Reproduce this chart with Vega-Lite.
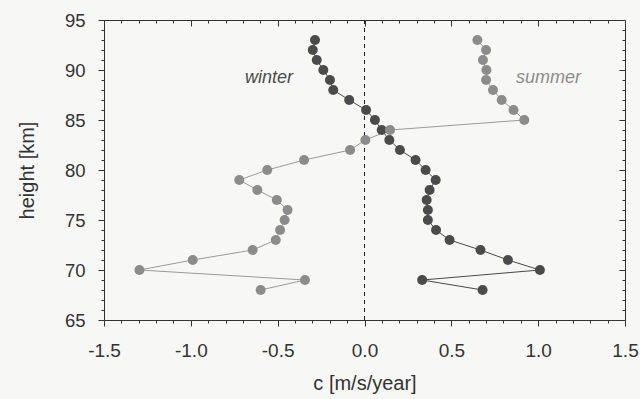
{
  "$schema": "https://vega.github.io/schema/vega-lite/v6.json",
  "width": 521,
  "height": 300,
  "autosize": {"type": "none"},
  "padding": {"left": 104, "top": 20, "right": 15, "bottom": 79},
  "background": "#f7f7f5",
  "config": {
    "view": {"stroke": "#333333", "strokeWidth": 1},
    "font": "Liberation Sans",
    "axis": {
      "grid": false,
      "domainColor": "#333333",
      "tickColor": "#333333",
      "labelColor": "#333333",
      "titleColor": "#333333",
      "labelFont": "Liberation Sans",
      "titleFont": "Liberation Sans",
      "labelFontSize": 19,
      "titleFontSize": 20,
      "titleFontWeight": "normal"
    }
  },
  "data": {
    "values": [
      {"season": "winter", "c": -0.285, "h": 93},
      {"season": "winter", "c": -0.298, "h": 92},
      {"season": "winter", "c": -0.275, "h": 91},
      {"season": "winter", "c": -0.237, "h": 90},
      {"season": "winter", "c": -0.199, "h": 89},
      {"season": "winter", "c": -0.18, "h": 88},
      {"season": "winter", "c": -0.088, "h": 87},
      {"season": "winter", "c": 0.009, "h": 86},
      {"season": "winter", "c": 0.06, "h": 85},
      {"season": "winter", "c": 0.099, "h": 84},
      {"season": "winter", "c": 0.143, "h": 83},
      {"season": "winter", "c": 0.204, "h": 82},
      {"season": "winter", "c": 0.294, "h": 81},
      {"season": "winter", "c": 0.352, "h": 80},
      {"season": "winter", "c": 0.41, "h": 79},
      {"season": "winter", "c": 0.375, "h": 78},
      {"season": "winter", "c": 0.358, "h": 77},
      {"season": "winter", "c": 0.365, "h": 76},
      {"season": "winter", "c": 0.365, "h": 75},
      {"season": "winter", "c": 0.412, "h": 74},
      {"season": "winter", "c": 0.49, "h": 73},
      {"season": "winter", "c": 0.668, "h": 72},
      {"season": "winter", "c": 0.826, "h": 71},
      {"season": "winter", "c": 1.01, "h": 70},
      {"season": "winter", "c": 0.332, "h": 69},
      {"season": "winter", "c": 0.68, "h": 68},
      {"season": "summer", "c": 0.65, "h": 93},
      {"season": "summer", "c": 0.7, "h": 92},
      {"season": "summer", "c": 0.682, "h": 91},
      {"season": "summer", "c": 0.702, "h": 90},
      {"season": "summer", "c": 0.7, "h": 89},
      {"season": "summer", "c": 0.74, "h": 88},
      {"season": "summer", "c": 0.79, "h": 87},
      {"season": "summer", "c": 0.858, "h": 86},
      {"season": "summer", "c": 0.92, "h": 85},
      {"season": "summer", "c": 0.147, "h": 84},
      {"season": "summer", "c": 0.005, "h": 83},
      {"season": "summer", "c": -0.083, "h": 82},
      {"season": "summer", "c": -0.348, "h": 81},
      {"season": "summer", "c": -0.56, "h": 80},
      {"season": "summer", "c": -0.721, "h": 79},
      {"season": "summer", "c": -0.617, "h": 78},
      {"season": "summer", "c": -0.505, "h": 77},
      {"season": "summer", "c": -0.443, "h": 76},
      {"season": "summer", "c": -0.46, "h": 75},
      {"season": "summer", "c": -0.486, "h": 74},
      {"season": "summer", "c": -0.511, "h": 73},
      {"season": "summer", "c": -0.644, "h": 72},
      {"season": "summer", "c": -0.989, "h": 71},
      {"season": "summer", "c": -1.296, "h": 70},
      {"season": "summer", "c": -0.343, "h": 69},
      {"season": "summer", "c": -0.598, "h": 68}
    ]
  },
  "resolve": {"axis": {"x": "independent", "y": "independent"}},
  "layer": [
    {
      "data": {"values": [{"c": 0}]},
      "mark": {"type": "rule", "color": "#222222", "strokeWidth": 1, "strokeDash": [4, 4]},
      "encoding": {
        "x": {"field": "c", "type": "quantitative", "scale": {"domain": [-1.5, 1.5], "nice": false, "zero": false}, "axis": null}
      }
    },
    {
      "transform": [{"filter": "datum.season == 'summer'"}],
      "mark": {"type": "line", "color": "#9a9a9a", "strokeWidth": 1},
      "encoding": {
        "x": {"field": "c", "type": "quantitative", "scale": {"domain": [-1.5, 1.5], "nice": false, "zero": false},
          "axis": {"orient": "bottom", "values": [-1.5, -1.0, -0.5, 0, 0.5, 1.0, 1.5], "labelExpr": "datum.value < 0 ? '-' + format(-datum.value, '.1f') : format(datum.value, '.1f')", "tickSize": 6, "labelPadding": 15, "title": "c [m/s/year]", "titlePadding": 13, "domain": false, "labelFlush": false}},
        "y": {"field": "h", "type": "quantitative", "scale": {"domain": [65, 95], "nice": false, "zero": false},
          "axis": {"orient": "left", "values": [65, 70, 75, 80, 85, 90, 95], "tickSize": 6, "labelPadding": 13, "labelFontSize": 18.5, "title": "height [km]", "titlePadding": 27, "domain": false, "labelFlush": false}},
        "order": {"field": "h", "type": "quantitative"}
      }
    },
    {
      "transform": [{"filter": "datum.season == 'winter'"}],
      "mark": {"type": "line", "color": "#4a4a4a", "strokeWidth": 1},
      "encoding": {
        "x": {"field": "c", "type": "quantitative", "scale": {"domain": [-1.5, 1.5], "nice": false, "zero": false},
          "axis": {"orient": "bottom", "values": [-1.4, -1.3, -1.2, -1.1, -0.9, -0.8, -0.7, -0.6, -0.4, -0.3, -0.2, -0.1, 0.1, 0.2, 0.3, 0.4, 0.6, 0.7, 0.8, 0.9, 1.1, 1.2, 1.3, 1.4], "tickSize": 3, "labels": false, "title": null, "domain": false}},
        "y": {"field": "h", "type": "quantitative", "scale": {"domain": [65, 95], "nice": false, "zero": false},
          "axis": {"orient": "left", "values": [66, 67, 68, 69, 71, 72, 73, 74, 76, 77, 78, 79, 81, 82, 83, 84, 86, 87, 88, 89, 91, 92, 93, 94], "tickSize": 3, "labels": false, "title": null, "domain": false}},
        "order": {"field": "h", "type": "quantitative"}
      }
    },
    {
      "mark": {"type": "point", "filled": true, "opacity": 1, "size": 100},
      "encoding": {
        "x": {"field": "c", "type": "quantitative", "scale": {"domain": [-1.5, 1.5], "nice": false, "zero": false},
          "axis": {"orient": "top", "values": [-1.5, -1.0, -0.5, 0, 0.5, 1.0, 1.5], "tickSize": -6, "labels": false, "title": null, "domain": false}},
        "y": {"field": "h", "type": "quantitative", "scale": {"domain": [65, 95], "nice": false, "zero": false},
          "axis": {"orient": "right", "values": [65, 70, 75, 80, 85, 90, 95], "tickSize": -6, "labels": false, "title": null, "domain": false}},
        "color": {"field": "season", "type": "nominal", "scale": {"domain": ["winter", "summer"], "range": ["#4b4b4b", "#8c8c8c"]}, "legend": null}
      }
    },
    {
      "data": {"values": [{"label": "winter", "season": "winter", "c": -0.55, "h": 89.2}, {"label": "summer", "season": "summer", "c": 1.06, "h": 89.2}]},
      "mark": {"type": "text", "font": "Liberation Sans", "fontSize": 18, "fontStyle": "italic", "align": "center", "baseline": "middle"},
      "encoding": {
        "x": {"field": "c", "type": "quantitative", "scale": {"domain": [-1.5, 1.5], "nice": false, "zero": false},
          "axis": {"orient": "top", "values": [-1.4, -1.3, -1.2, -1.1, -0.9, -0.8, -0.7, -0.6, -0.4, -0.3, -0.2, -0.1, 0.1, 0.2, 0.3, 0.4, 0.6, 0.7, 0.8, 0.9, 1.1, 1.2, 1.3, 1.4], "tickSize": -3, "labels": false, "title": null, "domain": false}},
        "y": {"field": "h", "type": "quantitative", "scale": {"domain": [65, 95], "nice": false, "zero": false},
          "axis": {"orient": "right", "values": [66, 67, 68, 69, 71, 72, 73, 74, 76, 77, 78, 79, 81, 82, 83, 84, 86, 87, 88, 89, 91, 92, 93, 94], "tickSize": -3, "labels": false, "title": null, "domain": false}},
        "text": {"field": "label"},
        "color": {"field": "season", "type": "nominal", "scale": {"domain": ["winter", "summer"], "range": ["#4b4b4b", "#8c8c8c"]}, "legend": null}
      }
    }
  ]
}
